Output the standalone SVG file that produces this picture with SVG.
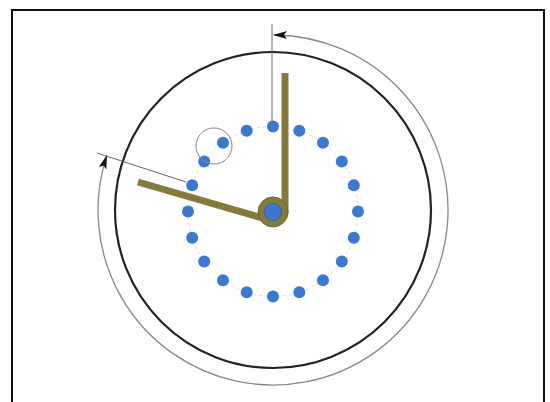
<svg xmlns="http://www.w3.org/2000/svg" width="550" height="402" viewBox="0 0 550 402">
<style>
.frame{fill:none;stroke:#111;stroke-width:2}
.dial{fill:none;stroke:#222;stroke-width:2.2}
.ext{fill:none;stroke:#666;stroke-width:1}
.dim{fill:none;stroke:#888;stroke-width:1.3}
.ring{fill:none;stroke:#e4d6e0;stroke-width:1;stroke-dasharray:3 3}
.dot{fill:#3d78cf}
.hand{fill:none;stroke:#857a3e;stroke-width:7;stroke-linecap:butt}
.hl{fill:none;stroke:#888;stroke-width:1}
</style>
<defs>
<marker id="arr" viewBox="0 0 14 10" refX="13" refY="5" markerWidth="14" markerHeight="10" markerUnits="userSpaceOnUse" orient="auto-start-reverse">
<path d="M14 5 L0 1 L3 5 L0 9 Z" fill="#111"/>
</marker>
</defs>
<rect width="550" height="402" fill="#fff"/>
<rect class="frame" x="12" y="10" width="532" height="400"/>
<g id="dial"><circle class="dial" cx="273" cy="210" r="158"/></g>
<g id="connectors">
<line class="ext" x1="272" y1="24" x2="272" y2="121"/>
<line class="ext" x1="97" y1="153" x2="186" y2="182"/>
<path class="dim" d="M 274 35 A 175 175 0 1 1 106.6 155.9" marker-start="url(#arr)" marker-end="url(#arr)"/>
</g>
<g id="dots">
<circle class="ring" cx="273" cy="211.5" r="85"/>
<circle class="dot" cx="273.0" cy="126.5" r="6"/>
<circle class="dot" cx="299.3" cy="130.7" r="6"/>
<circle class="dot" cx="323.0" cy="142.7" r="6"/>
<circle class="dot" cx="341.8" cy="161.5" r="6"/>
<circle class="dot" cx="353.8" cy="185.2" r="6"/>
<circle class="dot" cx="358.0" cy="211.5" r="6"/>
<circle class="dot" cx="353.8" cy="237.8" r="6"/>
<circle class="dot" cx="341.8" cy="261.5" r="6"/>
<circle class="dot" cx="323.0" cy="280.3" r="6"/>
<circle class="dot" cx="299.3" cy="292.3" r="6"/>
<circle class="dot" cx="273.0" cy="296.5" r="6"/>
<circle class="dot" cx="246.7" cy="292.3" r="6"/>
<circle class="dot" cx="223.0" cy="280.3" r="6"/>
<circle class="dot" cx="204.2" cy="261.5" r="6"/>
<circle class="dot" cx="192.2" cy="237.8" r="6"/>
<circle class="dot" cx="188.0" cy="211.5" r="6"/>
<circle class="dot" cx="192.2" cy="185.2" r="6"/>
<circle class="dot" cx="204.2" cy="161.5" r="6"/>
<circle class="dot" cx="223.0" cy="142.7" r="6"/>
<circle class="dot" cx="246.7" cy="130.7" r="6"/>
</g>
<g id="highlight"><circle class="hl" cx="214" cy="146" r="18"/></g>
<g id="hands">
<line class="hand" x1="138" y1="182" x2="266" y2="219"/>
<line class="hand" x1="285" y1="73" x2="285" y2="214"/>
<circle cx="273" cy="212" r="15" fill="#857a3e" stroke="#6e6432" stroke-width="1"/>
<circle cx="273" cy="212" r="8.5" fill="#3d78cf" stroke="#2d5fa8" stroke-width="1"/>
</g>
</svg>
